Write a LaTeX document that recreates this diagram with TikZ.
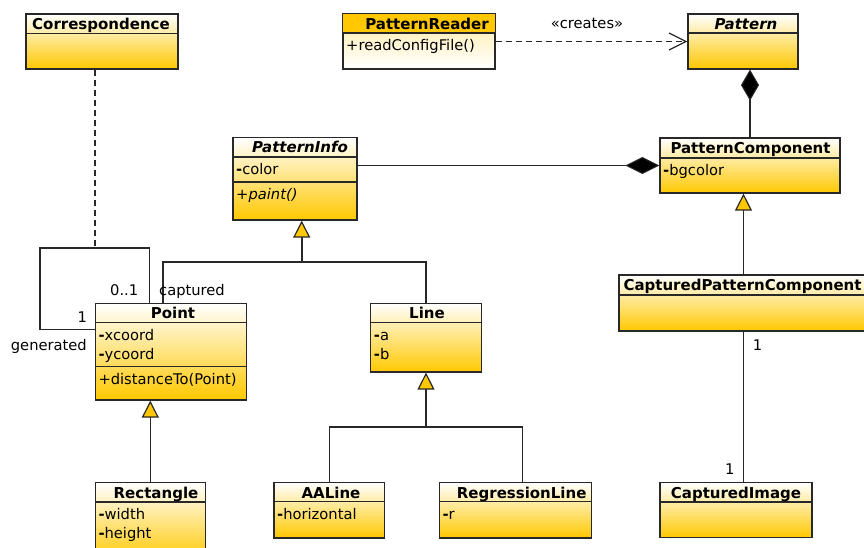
\documentclass[tikz,border=0pt]{standalone}
\usepackage{fontspec}
\setmainfont{DejaVu Sans}
\usetikzlibrary{arrows.meta}
\definecolor{umlgold}{RGB}{255,200,0}
\definecolor{umlline}{RGB}{40,40,40}
\definecolor{umllight}{RGB}{255,236,165}
\newcommand\umlbox[6][]{\node[classbox,minimum width={#5-#3},minimum height={#6-#4},#1] (#2) at ({(#3+#5)/2},{(#4+#6)/2}) {};}
\tikzset{
  classbox/.style={rectangle,draw=umlline,line width=1.2pt,top color=white,bottom color=umlgold,inner sep=0pt},
  divider/.style={draw=umlline,line width=1.2pt},
  hdr/.style={font=\fontsize{15}{19}\selectfont\bfseries,anchor=base,inner sep=0pt},
  ihdr/.style={font=\fontsize{15}{19}\selectfont\bfseries\itshape,anchor=base,inner sep=0pt},
  attr/.style={font=\fontsize{14.7}{19}\selectfont,anchor=base west,inner sep=0pt},
  lbl/.style={font=\fontsize{14.7}{19}\selectfont,anchor=base west,inner sep=0pt},
  assoc/.style={draw=umlline,line width=1.4pt},
  gen/.style={assoc,-{Triangle[length=17pt,width=17pt,fill=umlgold,line width=1.2pt]}},
  comp/.style={assoc,-{Diamond[length=34pt,width=17pt,fill=black,line width=1pt]}},
  dep/.style={assoc,dash pattern=on 6pt off 4pt,-{Straight Barb[length=17pt,width=17pt,line width=1.2pt]}},
}
\begin{document}
\begin{tikzpicture}[x=1pt,y=-1pt]
\useasboundingbox (0,0) rectangle (864,547);
% ---------- boxes ----------
\umlbox{corr}{26}{14}{178}{69}
\draw[divider] (26,33.5) -- (178,33.5);
\node[hdr] (corrT) at (101,29.3) {Correspondence};

\umlbox[top color=umllight,bottom color=white]{reader}{343}{14}{495}{69}
\fill[umlgold] (343,14) rectangle (495,33);
\draw[divider] (343,33) -- (495,33);
\draw[divider] (reader.north west) rectangle (reader.south east);
\node[hdr] (readerT) at (427,29.3) {PatternReader};
\node[attr] (readerA) at (346,50) {+readConfigFile()};

\umlbox{pat}{688}{14}{798}{69}
\draw[divider] (688,33) -- (798,33);
\node[ihdr] (patT) at (746,29.3) {Pattern};

\umlbox{pinfo}{233}{137.5}{357}{220}
\draw[divider] (233,157) -- (357,157);
\draw[divider] (233,182) -- (357,182);
\node[ihdr] (pinfoT) at (300,152.8) {PatternInfo};
\node[attr] (pinfoA) at (236,174.5) {\textbf{-}color};
\node[attr,font=\fontsize{14.7}{19}\selectfont\itshape] (pinfoO) at (236,199.3) {+paint()};

\umlbox{pc}{660}{138}{840}{193}
\draw[divider] (660,158) -- (840,158);
\node[hdr] (pcT) at (750.5,153.3) {PatternComponent};
\node[attr] (pcA) at (663,175) {\textbf{-}bgcolor};

\umlbox{cpc}{619}{275}{868}{331}
\draw[divider] (619,295) -- (868,295);
\node[hdr,anchor=base west] (cpcT) at (623.3,290.5) {CapturedPatternComponent};

\umlbox{ci}{660}{482.7}{812}{537.7}
\draw[divider] (660,502) -- (812,502);
\node[hdr] (ciT) at (736,498) {CapturedImage};

\umlbox{point}{95.3}{303.3}{246.7}{400}
\draw[divider] (95.3,322.7) -- (246.7,322.7);
\draw[divider] (95.3,366.7) -- (246.7,366.7);
\node[hdr] (pointT) at (173,318.3) {Point};
\node[attr] (pointA1) at (98.3,340) {\textbf{-}xcoord};
\node[attr] (pointA2) at (98.3,359) {\textbf{-}ycoord};
\node[attr] (pointO) at (98.3,384.3) {+distanceTo(Point)};

\umlbox{line}{370.7}{303.3}{481.3}{372}
\draw[divider] (370.7,322.7) -- (481.3,322.7);
\node[hdr] (lineT) at (427,318.3) {Line};
\node[attr] (lineA1) at (373.7,340) {\textbf{-}a};
\node[attr] (lineA2) at (373.7,359) {\textbf{-}b};

\umlbox{rect}{95.3}{482.7}{205.3}{562}
\draw[divider] (95.3,502) -- (205.3,502);
\node[hdr] (rectT) at (156,498) {Rectangle};
\node[attr] (rectA1) at (98.3,519.3) {\textbf{-}width};
\node[attr] (rectA2) at (98.3,538.3) {\textbf{-}height};

\umlbox{aaline}{274}{482.3}{384.7}{538}
\draw[divider] (274,501.7) -- (384.7,501.7);
\node[hdr] (aalineT) at (331,498) {AALine};
\node[attr] (aalineA) at (277,519.3) {\textbf{-}horizontal};

\umlbox{rl}{439.3}{482.3}{591.7}{538}
\draw[divider] (439.3,501.7) -- (591.7,501.7);
\node[hdr] (rlT) at (521.7,498) {RegressionLine};
\node[attr] (rlA) at (442.3,519.3) {\textbf{-}r};

% ---------- connectors ----------
\draw[dep] (reader.east) -- (pat.west);
\node[lbl,anchor=base] (creates) at (587,28.8) {«creates»};

\draw[comp] (pinfo.east |- pc.west) -- (pc.west);
\draw[assoc,-{Diamond[length=31pt,width=18pt,fill=black,line width=1pt]}] (pc.north) -- (pc.north |- pat.south);

\coordinate (pjoin) at (301.7,262);
\draw[gen,line width=1.9pt] (pjoin) -- (pjoin |- pinfo.south);
\draw[assoc] ([xshift=68.4pt]point.north west) |- (pjoin) -| (line.north);

\coordinate (ljoin) at (426,427);
\draw[gen,line width=1.9pt] (ljoin) -- (line.south);
\draw[assoc] (aaline.north) |- (ljoin) -| ([xshift=7.2pt]rl.north);

\draw[gen] (rect.north) -- (rect.north |- point.south);
\draw[gen] (cpc.north) -- (cpc.north |- pc.south);
\draw[assoc] (cpc.south) -- (cpc.south |- ci.north);
\node[lbl] (m1) at (752.7,350) {1};
\node[lbl] (m2) at (725,474.3) {1};

\coordinate (acpt) at (95,248);
\coordinate (loopc) at (40,248);
\draw[assoc,dash pattern=on 6pt off 4pt] (corr.south -| acpt) -- (acpt);
\draw[assoc] ([xshift=54.7pt]point.north west) |- (loopc) |- ([yshift=-26.7pt]point.north west);
\node[lbl] (m01) at (110,295) {0..1};
\node[lbl] (rcap) at (159,295) {captured};
\node[lbl] (m1b) at (77.3,322.3) {1};
\node[lbl] (rgen) at (10.7,350) {generated};
\end{tikzpicture}
\end{document}
